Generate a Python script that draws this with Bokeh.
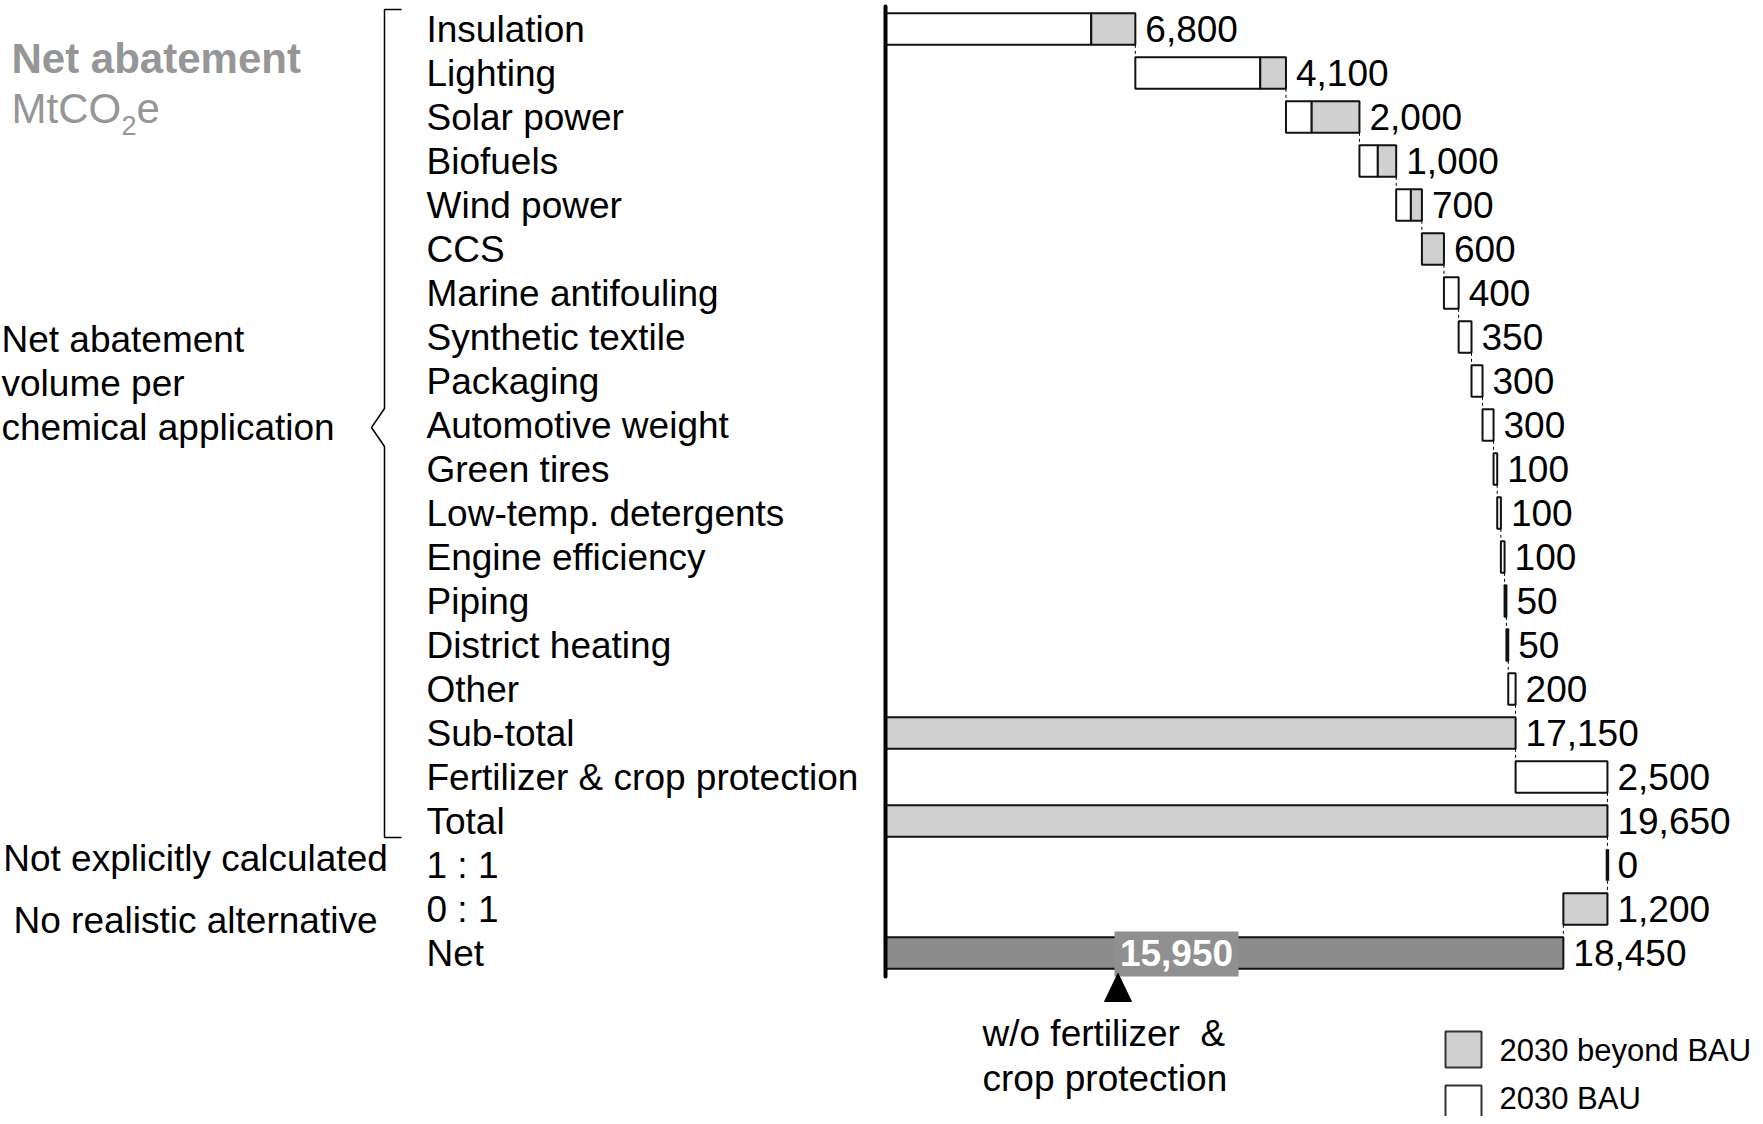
from bokeh.plotting import figure
from bokeh.models import Range1d, ColumnDataSource
from bokeh.embed import file_html
from bokeh.resources import INLINE
from bokeh.core.properties import value

# ---------------- data (MtCO2e) ----------------
applications = ["Insulation", "Lighting", "Solar power", "Biofuels", "Wind power", "CCS",
                "Marine antifouling", "Synthetic textile", "Packaging", "Automotive weight",
                "Green tires", "Low-temp. detergents", "Engine efficiency", "Piping",
                "District heating", "Other"]
bau_2030 = [5600, 3400, 700, 500, 400, 0, 400, 350, 300, 300, 100, 100, 100, 50, 50, 200]
beyond_bau_2030 = [1200, 700, 1300, 500, 300, 600, 0, 0, 0, 0, 0, 0, 0, 0, 0, 0]
summary_labels = ["Sub-total", "Fertilizer & crop protection", "Total", "1 : 1", "0 : 1", "Net"]
fertilizer_crop_protection = 2500
not_explicitly_calculated = 0
no_realistic_alternative = 1200
legend_labels = ["2030 beyond BAU", "2030 BAU"]

# ---------------- layout constants (pixels) ----------------
W, H = 1755, 1116
X0_PX = 885.0          # pixel position of value 0
PX_PER_UNIT = 0.03674
Y0_PX = 28.5           # pixel centre of first row
ROW_PX = 44.0
BAR_H = 0.72
FONT = value("Liberation Sans")
GREY = "#d0d0d0"
DARK = "#8c8c8c"
EDGE = "#111111"
FS = "37px"


def fx(px):
    return (px - X0_PX) / PX_PER_UNIT


def fy(py):
    return (py - Y0_PX) / ROW_PX


p = figure(width=W, height=H, output_backend="svg", toolbar_location=None,
           x_range=Range1d(fx(0), fx(W)), y_range=Range1d(fy(H), fy(0)),
           x_axis_location=None, y_axis_location=None, min_border=0)
p.grid.visible = False
p.outline_line_color = None
p.background_fill_color = "white"
p.border_fill_color = "white"

# ---------------- waterfall computation ----------------
starts = []
cum = 0
for b, g in zip(bau_2030, beyond_bau_2030):
    starts.append(cum)
    cum += b + g
subtotal = cum
total = subtotal + fertilizer_crop_protection
net = total - not_explicitly_calculated - no_realistic_alternative
net_wo_fert = subtotal - no_realistic_alternative

left, right, rows, fills = [], [], [], []
for i, (s, b, g) in enumerate(zip(starts, bau_2030, beyond_bau_2030)):
    if b > 0:
        left.append(s); right.append(s + b); rows.append(i); fills.append("white")
    if g > 0:
        left.append(s + b); right.append(s + b + g); rows.append(i); fills.append(GREY)
n = len(applications)
left += [0, subtotal, 0, total, total - no_realistic_alternative, 0]
right += [subtotal, total, total, total + not_explicitly_calculated, total, net]
rows += [n, n + 1, n + 2, n + 3, n + 4, n + 5]
fills += [GREY, "white", GREY, GREY, GREY, DARK]
lw = [3.5 if r == l else 2 for l, r in zip(left, right)]

bars = ColumnDataSource(dict(left=left, right=right, y=rows, fill=fills, lw=lw))
p.hbar(y="y", left="left", right="right", height=BAR_H, source=bars,
       fill_color="fill", line_color=EDGE, line_width="lw")

# connectors (dashed)
ends = [s + b + g for s, b, g in zip(starts, bau_2030, beyond_bau_2030)]
conn_x = ends + [subtotal, total, total, total, total - no_realistic_alternative]
conn_y0 = [i + BAR_H / 2 for i in range(len(conn_x))]
conn_y1 = [i + 1 - BAR_H / 2 for i in range(len(conn_x))]
p.segment(x0=conn_x, x1=conn_x, y0=conn_y0, y1=conn_y1, line_color="black",
          line_width=1, line_dash="3 3")

# axis line at zero
p.segment(x0=[0], x1=[0], y0=[fy(6)], y1=[fy(976)], line_color="black",
          line_width=4, line_cap="round")

# category labels
all_labels = applications + summary_labels
p.text(x=[fx(426)] * len(all_labels), y=list(range(len(all_labels))), text=all_labels,
       text_font=FONT, text_font_size=FS, text_color="black",
       text_baseline="middle", text_align="left")

# value labels
values = [b + g for b, g in zip(bau_2030, beyond_bau_2030)] + \
    [subtotal, fertilizer_crop_protection, total, not_explicitly_calculated,
     no_realistic_alternative, net]
val_x = ends + [subtotal, total, total, total, total, net]
p.text(x=val_x, y=list(range(len(values))), text=[f"{v:,}" for v in values],
       x_offset=10, text_font=FONT, text_font_size=FS, text_color="black",
       text_baseline="middle", text_align="left")

# bracket
bx = [fx(401), fx(384), fx(384), fx(371), fx(384), fx(384), fx(401)]
by = [fy(9), fy(9), fy(408), fy(427), fy(446), fy(837), fy(837)]
p.line(bx, by, line_color="black", line_width=1.5)

# left texts
TG = "#969696"
p.text(x=[fx(11)], y=[fy(58)], text=["Net abatement"], text_font=FONT,
       text_font_size="42px", text_font_style="bold", text_color=TG,
       text_baseline="middle")
p.text(x=[fx(11)], y=[fy(108)], text=["MtCO"], text_font=FONT,
       text_font_size="42px", text_color=TG, text_baseline="middle")
p.text(x=[fx(121)], y=[fy(125)], text=["2"], text_font=FONT,
       text_font_size="27px", text_color=TG, text_baseline="middle")
p.text(x=[fx(136)], y=[fy(108)], text=["e"], text_font=FONT,
       text_font_size="42px", text_color=TG, text_baseline="middle")

p.text(x=[fx(1)] * 3, y=[7.06, 8.06, 9.06],
       text=["Net abatement", "volume per", "chemical application"],
       text_font=FONT, text_font_size=FS, text_color="black",
       text_baseline="middle", text_align="left")
p.text(x=[fx(195), fx(195)], y=[fy(858), fy(920)],
       text=["Not explicitly calculated", "No realistic alternative"],
       text_font=FONT, text_font_size=FS, text_color="black",
       text_baseline="middle", text_align="center")

# net label box without fertilizer
p.quad(left=[fx(1114)], right=[fx(1238)], top=[fy(931)], bottom=[fy(976)],
       fill_color="#909090", line_color=None)
p.text(x=[(fx(1114) + fx(1238)) / 2], y=[n + 5], text=[f"{net_wo_fert:,}"],
       text_font=FONT, text_font_size=FS, text_font_style="bold",
       text_color="white", text_baseline="middle", text_align="center")
p.patch(x=[fx(1104), fx(1131), fx(1117.5)], y=[fy(1001), fy(1001), fy(973)],
        fill_color="black", line_color="black", line_width=1)
p.text(x=[fx(982), fx(982)], y=[fy(1033), fy(1078)],
       text=["w/o fertilizer\u00a0 &", "crop protection"],
       text_font=FONT, text_font_size=FS, text_color="black",
       text_baseline="middle", text_align="left")

# legend
p.quad(left=[fx(1445), fx(1445)], right=[fx(1481), fx(1481)],
       top=[fy(1031), fy(1085)], bottom=[fy(1067), fy(1121)],
       fill_color=[GREY, "white"], line_color="#333333", line_width=2)
p.text(x=[fx(1499), fx(1499)], y=[fy(1050), fy(1098)], text=legend_labels,
       text_font=FONT, text_font_size="31px", text_color="black",
       text_baseline="middle", text_align="left")

open("out.html", "w").write(file_html(p, INLINE))
